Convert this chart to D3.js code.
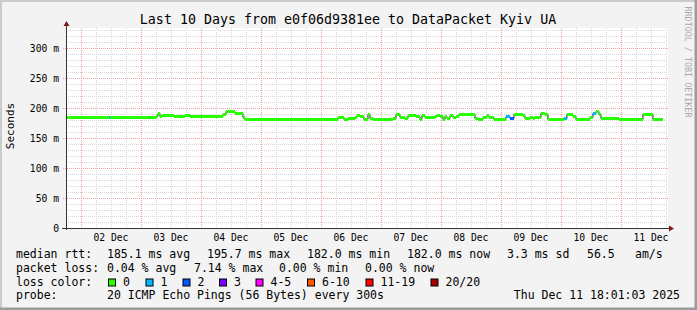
<!DOCTYPE html>
<html><head><meta charset="utf-8">
<script src="https://cdn.jsdelivr.net/npm/d3@7"></script>
<style>
body{margin:0;background:#f3f3f3}
svg{display:block}
text{font-family:"DejaVu Sans Mono",monospace;fill:#000}
</style>
</head><body>
<svg id="c" width="697" height="310"></svg>
<script>
// ---------------- data ----------------
const title = "Last 10 Days from e0f06d9381ee to DataPacket Kyiv UA";
const rangeStart = "2025-12-01T18:01:03Z";
const rangeEnd   = "2025-12-11T18:01:03Z";
const dataEnd    = "2025-12-11T16:48:00Z";

// start time of each consolidated step (UTC)
const stepTimes = [
 "12-01 18:00","12-02 11:12","12-02 11:48","12-03 06:00","12-03 06:48","12-03 07:36","12-03 08:24",
 "12-03 13:12","12-03 17:36","12-03 19:36","12-04 08:48","12-04 10:00","12-04 13:36","12-04 16:48",
 "12-04 17:36","12-06 06:48","12-06 09:12","12-06 10:48","12-06 13:36","12-06 14:24","12-06 15:36",
 "12-06 17:12","12-06 18:48","12-06 19:36","12-06 20:48","12-07 04:48","12-07 06:00","12-07 07:36",
 "12-07 09:36","12-07 10:48","12-07 12:24","12-07 14:00","12-07 15:36","12-07 16:24","12-07 17:36",
 "12-07 21:36","12-07 22:24","12-07 23:36","12-08 00:48","12-08 01:36","12-08 02:24","12-08 03:36",
 "12-08 04:48","12-08 06:00","12-08 07:12","12-08 13:36","12-08 14:48","12-08 16:48","12-08 18:24",
 "12-08 19:12","12-08 21:12","12-09 02:00","12-09 03:36","12-09 05:12","12-09 08:48","12-09 09:36",
 "12-09 11:36","12-09 12:48","12-09 13:36","12-09 16:00","12-09 17:36","12-09 18:48","12-10 01:12",
 "12-10 02:24","12-10 04:48","12-10 06:00","12-10 11:36","12-10 12:48","12-10 14:00","12-10 15:12",
 "12-10 16:00","12-10 22:00","12-10 23:12","12-11 08:48","12-11 12:48"
];
// median rtt in ms for each step
const medianMs = [
 185,185,185,186,192,186,188,
 187,189,187,190,195.7,191,185,
 182,184.5,182,184,185,189,187,
 182,190,183,182,184,190,185,
 183,188,189,186,182,189,185,
 187,189,187,182,186,183,188,
 185,187,190,183,182,185,189,
 185,182,187,184,190,188,183,
 185,183,185,191,190,182,184,
 190,187,182,185,191,195,190,
 183,184,182,190,182
];
// lost pings (of 20) for each step
const lossCount = [
 0,1,0,0,0,0,0,
 0,0,0,0,0,0,0,
 0,0,0,0,0,0,0,
 0,0,0,0,0,0,0,
 0,0,0,0,0,0,0,
 0,0,0,0,0,0,0,
 0,0,0,0,0,0,0,
 0,0,1,2,0,0,0,
 0,0,0,0,0,0,1,
 0,0,0,0,1,0,0,
 0,0,0,0,0
];

const yTicks = [0,50,100,150,200,250,300];
const yTickLabels = ["0","50 m","100 m","150 m","200 m","250 m","300 m"];
const yLabel = "Seconds";

const lossBins   = [0,1,2,3,5,10,19,20];
const lossLabels = ["0","1","2","3","4-5","6-10","11-19","20/20"];
const lossColors = ["#26ff00","#00b8ff","#0059ff","#7e00ff","#ff00ff","#ff5500","#ff0000","#a00000"];

const rttRow  = ["median rtt:","185.1 ms avg","195.7 ms max","182.0 ms min","182.0 ms now","3.3 ms sd","56.5","am/s"];
const lossRow = ["packet loss:","0.04 % avg","7.14 % max","0.00 % min","0.00 % now"];
const colorRowLabel = "loss color:";
const probeRow = ["probe:","20 ICMP Echo Pings (56 Bytes) every 300s"];
const stamp = "Thu Dec 11 18:01:03 2025";
const watermark = "RRDTOOL / TOBI OETIKER";

// ---------------- drawing ----------------
const svg = d3.select("#c");
const W = 697, H = 310;
const L = 66, R = 666, T = 28, B = 228;
const parse = s => new Date("2025-" + s.replace(" ", "T") + ":00Z");

const x = d3.scaleUtc().domain([new Date(rangeStart), new Date(rangeEnd)]).range([L, R]);
const y = d3.scaleLinear().domain([0, 1000/3]).range([B, T]);

// frame
svg.append("rect").attr("x",0).attr("y",0).attr("width",W).attr("height",H).attr("fill","#f3f3f3");
svg.append("path").attr("d",`M0,${H} V0 H${W}`).attr("fill","none").attr("stroke","#cbcbcb").attr("stroke-width",4);
svg.append("path").attr("d",`M${W},0 V${H} H0`).attr("fill","none").attr("stroke","#9b9b9b").attr("stroke-width",5);
svg.append("rect").attr("x",L).attr("y",T).attr("width",R-L+2).attr("height",B-T).attr("fill","#fff");

const g = svg.append("g");
// minor grid
const minorV = d3.utcHour.every(6).range(x.domain()[0], x.domain()[1]).filter(d => d.getUTCHours() !== 0);
g.selectAll(".mv").data(minorV).join("line")
 .attr("x1",d=>Math.round(x(d))+0.5).attr("x2",d=>Math.round(x(d))+0.5)
 .attr("y1",T).attr("y2",B).attr("stroke","#d6d6d6").attr("stroke-dasharray","1,1");
const minorH = d3.range(10, 331, 10).filter(v => v % 50 !== 0);
g.selectAll(".mh").data(minorH).join("line")
 .attr("x1",L).attr("x2",R+2)
 .attr("y1",d=>Math.round(y(d))+0.5).attr("y2",d=>Math.round(y(d))+0.5)
 .attr("stroke","#d6d6d6").attr("stroke-dasharray","1,1");
// major grid
const majorV = d3.utcDay.range(x.domain()[0], x.domain()[1]);
g.selectAll(".Mv").data(majorV).join("line")
 .attr("x1",d=>Math.round(x(d))+0.5).attr("x2",d=>Math.round(x(d))+0.5)
 .attr("y1",T).attr("y2",B).attr("stroke","#f4a0a0").attr("stroke-dasharray","1,1");
g.selectAll(".Mh").data(yTicks.filter(v=>v>0)).join("line")
 .attr("x1",L-3).attr("x2",R+2)
 .attr("y1",d=>Math.round(y(d))+0.5).attr("y2",d=>Math.round(y(d))+0.5)
 .attr("stroke","#f4a0a0").attr("stroke-dasharray","1,1");

// y labels
g.selectAll(".yl").data(yTicks).join("text")
 .attr("x",59).attr("y",d=>Math.round(y(d))+3.5)
 .attr("text-anchor","end").attr("font-size","9.7px")
 .text((d,i)=>yTickLabels[i]);
// x labels at noon
const noons = majorV.map(d => d3.utcHour.offset(d, 12)).filter(d => x(d) < R);
g.selectAll(".xl").data(noons).join("text")
 .attr("x",d=>x(d)).attr("y",241).attr("text-anchor","middle").attr("font-size","9.7px")
 .text(d3.utcFormat("%d %b"));

// data steps
const steps = stepTimes.map((t,i)=>({t0:parse(t), t1: i+1<stepTimes.length ? parse(stepTimes[i+1]) : new Date(dataEnd), v:medianMs[i], loss:lossCount[i]}));
const py = v => Math.round(y(v)) + 0.5;
// thin dark median step line
const pts = [];
steps.forEach(s => { pts.push([x(s.t0), py(s.v)]); pts.push([x(s.t1), py(s.v)]); });
g.append("path").attr("d", d3.line()(pts)).attr("fill","none").attr("stroke","#202020").attr("stroke-width",1);
// coloured thick segments by loss
const colorFor = l => lossColors[lossBins.findIndex(b => l <= b)];
g.selectAll(".seg").data(steps).join("line")
 .attr("x1",d=>x(d.t0)).attr("x2",d=>x(d.t1))
 .attr("y1",d=>py(d.v)).attr("y2",d=>py(d.v))
 .attr("stroke",d=>colorFor(d.loss)).attr("stroke-width",3);

// axes
g.append("line").attr("x1",L+0.5).attr("x2",L+0.5).attr("y1",24).attr("y2",B+2).attr("stroke","#333");
g.append("line").attr("x1",L-4).attr("x2",R+6).attr("y1",B+0.5).attr("y2",B+0.5).attr("stroke","#333");
g.append("path").attr("d",`M${L-2.5},${26} L${L+0.5},${21} L${L+3.5},${26} Z`).attr("fill","#7f1a1a");
g.append("path").attr("d",`M${R+3},${B-2.5} L${R+8},${B+0.5} L${R+3},${B+3.5} Z`).attr("fill","#7f1a1a");

// title
svg.append("text").attr("x",348).attr("y",24).attr("text-anchor","middle").attr("font-size","13.3px").text(title);
// y axis title
svg.append("text").attr("transform","translate(14,126) rotate(-90)").attr("text-anchor","middle").attr("font-size","11px").text(yLabel);
// watermark
svg.append("text").attr("transform","translate(685,62) rotate(90)").attr("text-anchor","middle").attr("font-size","8.4px").style("fill","#a8a8a8").text(watermark);

// legend
const fs = "11.5px";
const row = (items, xs, yb) => items.forEach((t,i)=> svg.append("text").attr("x",xs[i]).attr("y",yb).attr("font-size",fs).attr("xml:space","preserve").text(t));
row(rttRow, [16,107,207,307,407,507,587,635], 258.3);
row(lossRow, [16,107,194,279,365], 272);
row([colorRowLabel], [16], 285.7);
const boxX = [108.5,146,183,219.5,256,307.5,366,431];
lossLabels.forEach((lab,i)=>{
  svg.append("rect").attr("x",boxX[i]).attr("y",279).attr("width",7).attr("height",7)
    .attr("fill",lossColors[i]).attr("stroke","#000").attr("stroke-width",1);
  svg.append("text").attr("x",boxX[i]+14.5).attr("y",285.7).attr("font-size",fs).text(lab);
});
row(probeRow, [16,107], 299.4);
svg.append("text").attr("x",680).attr("y",299.4).attr("text-anchor","end").attr("font-size",fs).text(stamp);
</script>
</body></html>
